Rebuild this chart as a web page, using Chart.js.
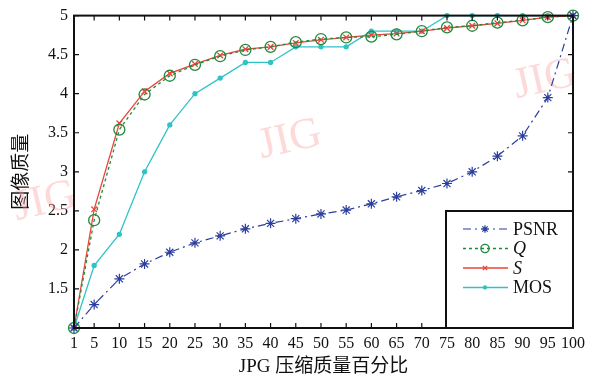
<!DOCTYPE html>
<html lang="zh">
<head>
<meta charset="UTF-8">
<title>JPG 压缩质量</title>
<script src="https://cdn.jsdelivr.net/npm/chart.js"></script>
<style>
  html, body { margin: 0; padding: 0; background: #fff; }
  #wrap { width: 604px; height: 378px; }
</style>
</head>
<body>
<div id="wrap"><canvas id="chart" width="604" height="378"></canvas></div>
<script>
const quality = [1, 5, 10, 15, 20, 25, 30, 35, 40, 45, 50, 55, 60, 65, 70, 75, 80, 85, 90, 95, 100];
const psnr = [1.0, 1.30, 1.63, 1.82, 1.97, 2.09, 2.18, 2.27, 2.34, 2.40, 2.46, 2.51, 2.59, 2.68, 2.76, 2.85, 3.0, 3.20, 3.46, 3.95, 5.0];
const qScore = [1.0, 2.38, 3.54, 3.99, 4.23, 4.37, 4.48, 4.56, 4.60, 4.66, 4.70, 4.72, 4.73, 4.76, 4.80, 4.85, 4.87, 4.91, 4.94, 4.98, 5.0];
const sScore = [1.0, 2.52, 3.62, 4.03, 4.26, 4.38, 4.49, 4.57, 4.60, 4.65, 4.69, 4.72, 4.75, 4.77, 4.80, 4.84, 4.87, 4.90, 4.94, 4.98, 5.0];
const mos = [1.0, 1.8, 2.2, 3.0, 3.6, 4.0, 4.2, 4.4, 4.4, 4.6, 4.6, 4.6, 4.8, 4.8, 4.8, 5.0, 5.0, 5.0, 5.0, 5.0, 5.0];
const yTicks = [1, 1.5, 2, 2.5, 3, 3.5, 4, 4.5, 5];

const serif = '"Liberation Serif", "Times New Roman", serif';
const cjk = '"Liberation Serif", "Noto Sans CJK SC", serif';

const pts = arr => quality.map((q, i) => ({ x: q, y: arr[i] }));

const series = [
  { label: 'PSNR', italic: false, data: psnr, color: '#2b3f9e', dash: [8, 4, 2, 4], style: 'star', radius: 5, fill: false, width: 1.2 },
  { label: 'Q', italic: true, data: qScore, color: '#1f8a3c', dash: [3, 3], style: 'circle', radius: 5.5, fill: false, width: 1.3 },
  { label: 'S', italic: true, data: sScore, color: '#e8453c', dash: [], style: 'crossRot', radius: 4, fill: false, width: 1.3 },
  { label: 'MOS', italic: false, data: mos, color: '#2fc3c6', dash: [], style: 'circle', radius: 2, fill: true, width: 1.3 }
];

// box frame with inward ticks, matlab style
const framePlugin = {
  id: 'frame',
  beforeDatasetsDraw(chart) {
    const ctx = chart.ctx;
    ctx.save();
    ctx.font = '44px ' + serif;
    ctx.fillStyle = 'rgba(250, 160, 160, 0.4)';
    ctx.textAlign = 'center';
    ctx.textBaseline = 'middle';
    [[290, 140], [545, 80], [45, 202]].forEach(([x, y]) => {
      ctx.save();
      ctx.translate(x, y);
      ctx.rotate(-0.22);
      ctx.fillText('JIG', 0, 0);
      ctx.restore();
    });
    ctx.restore();
  },
  afterDatasetsDraw(chart) {
    const { ctx, chartArea: a, scales } = chart;
    ctx.save();
    ctx.strokeStyle = '#111';
    ctx.lineWidth = 1.2;
    ctx.beginPath();
    scales.x.ticks.forEach(t => {
      const x = scales.x.getPixelForValue(t.value);
      ctx.moveTo(x, a.bottom); ctx.lineTo(x, a.bottom - 5);
      ctx.moveTo(x, a.top); ctx.lineTo(x, a.top + 5);
    });
    scales.y.ticks.forEach(t => {
      const y = scales.y.getPixelForValue(t.value);
      ctx.moveTo(a.left, y); ctx.lineTo(a.left + 5, y);
      ctx.moveTo(a.right, y); ctx.lineTo(a.right - 5, y);
    });
    ctx.stroke();
    ctx.lineWidth = 2;
    ctx.strokeRect(a.left, a.top, a.right - a.left, a.bottom - a.top);

    // legend box
    const bx = 446, by = 211, bw = a.right - bx, bh = a.bottom - by;
    ctx.fillStyle = '#fff';
    ctx.fillRect(bx, by, bw, bh);
    ctx.strokeRect(bx, by, bw, bh);
    chart.data.datasets.forEach((ds, i) => {
      const s = series[i];
      const y = 229 + i * 19.5;
      ctx.save();
      ctx.strokeStyle = s.color;
      ctx.lineWidth = s.width;
      ctx.setLineDash(s.dash);
      ctx.beginPath();
      ctx.moveTo(463, y); ctx.lineTo(508, y);
      ctx.stroke();
      ctx.setLineDash([]);
      ctx.fillStyle = s.fill ? s.color : 'rgba(0,0,0,0)';
      Chart.helpers.drawPoint(ctx, {
        pointStyle: s.style, radius: s.radius * 0.75, borderWidth: s.width, rotation: 0
      }, 485, y);
      ctx.fillStyle = '#111';
      ctx.font = (s.italic ? 'italic ' : '') + '18px ' + serif;
      ctx.textBaseline = 'middle';
      ctx.fillText(s.label, 513, y + 1);
      ctx.restore();
    });
    ctx.restore();
  }
};

new Chart(document.getElementById('chart'), {
  type: 'line',
  data: {
    datasets: series.map(s => ({
      label: s.label,
      data: pts(s.data),
      borderColor: s.color,
      backgroundColor: s.fill ? s.color : 'rgba(0,0,0,0)',
      borderWidth: s.width,
      borderDash: s.dash,
      pointStyle: s.style,
      pointRadius: s.radius,
      pointBorderWidth: s.width,
      pointBorderColor: s.color,
      pointBackgroundColor: s.fill ? s.color : 'rgba(0,0,0,0)',
      tension: 0,
      clip: false
    }))
  },
  options: {
    responsive: false,
    animation: false,
    layout: { padding: { left: 0, right: 31, top: 13, bottom: 0 } },
    plugins: { legend: { display: false }, tooltip: { enabled: false } },
    scales: {
      x: {
        type: 'linear',
        min: 1, max: 100,
        afterBuildTicks: sc => { sc.ticks = quality.map(v => ({ value: v })); },
        afterFit: sc => { sc.height = 50; },
        grid: { display: false, drawTicks: false },
        border: { display: false },
        ticks: { color: '#111', font: { family: serif, size: 16 }, padding: 6, maxRotation: 0, autoSkip: false },
        title: { display: true, text: 'JPG 压缩质量百分比', color: '#111', font: { family: cjk, size: 19 }, padding: { top: 0, bottom: 0 } }
      },
      y: {
        min: 1, max: 5,
        afterBuildTicks: sc => { sc.ticks = yTicks.map(v => ({ value: v })); },
        afterFit: sc => { sc.width = 74; },
        grid: { display: false, drawTicks: false },
        border: { display: false },
        ticks: { color: '#111', font: { family: serif, size: 16 }, padding: 6,
          callback: v => (v === 1 ? '' : String(v)) },
        title: { display: true, text: '图像质量', color: '#111', font: { family: cjk, size: 19 }, padding: { top: 11, bottom: 0 } }
      }
    }
  },
  plugins: [framePlugin]
});
</script>
</body>
</html>
